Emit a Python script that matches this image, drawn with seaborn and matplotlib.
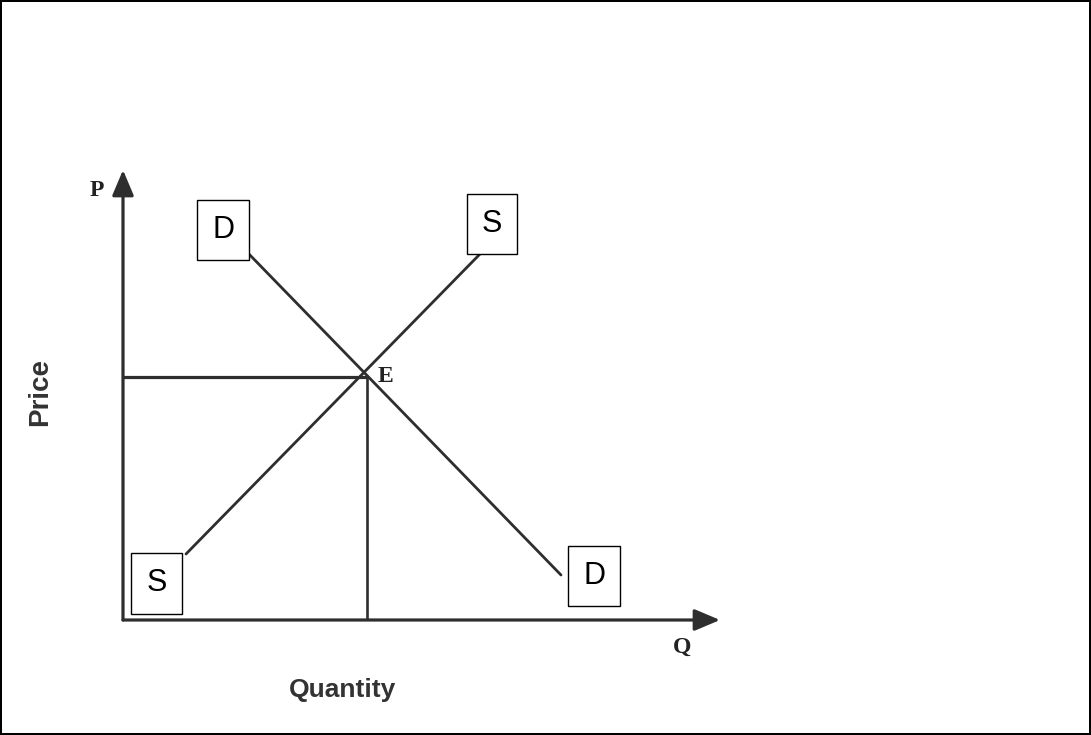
import matplotlib
matplotlib.use("Agg")
import matplotlib.pyplot as plt
import seaborn as sns
import pandas as pd

# ---- data (economic units: quantity on x, price on y) ----
demand_q = [2.05, 7.3]
demand_p = [6.15, 0.75]
supply_q = [1.05, 5.95]
supply_p = [1.1, 6.1]
eq_q = 4.07
eq_p = 4.05
curve_labels = ["D", "S", "S", "D"]
label_q = [1.67, 6.15, 0.56, 7.85]
label_p = [6.5, 6.6, 0.61, 0.73]
x_max = 9.95
y_max = 7.5

sns.set_theme(style="white")
plt.rcParams['font.family'] = ['Liberation Sans', 'DejaVu Sans']

fig = plt.figure(figsize=(10.91, 7.35), dpi=100)
fig.patch.set_facecolor("white")
fig.patch.set_edgecolor("black")
fig.patch.set_linewidth(1.5)

ax = fig.add_axes([123/1091, (735-620)/735, 600/1091, 450/735])
ax.set_xlim(0, 10)
ax.set_ylim(0, 7.5)
ax.axis("off")

line_col = "#2e2e2e"
df_d = pd.DataFrame({"q": demand_q, "p": demand_p})
df_s = pd.DataFrame({"q": supply_q, "p": supply_p})
sns.lineplot(data=df_d, x="q", y="p", ax=ax, color=line_col, lw=2.0, sort=False, legend=False)
sns.lineplot(data=df_s, x="q", y="p", ax=ax, color=line_col, lw=2.0, sort=False, legend=False)

# equilibrium guide lines
ax.plot([0, eq_q], [eq_p, eq_p], color=line_col, lw=2.3, solid_capstyle="butt")
ax.plot([eq_q, eq_q], [eq_p, 0], color=line_col, lw=1.9, solid_capstyle="butt")

# axes with arrows
arrow_kw = dict(arrowstyle="-|>,head_length=1.3,head_width=0.55", color=line_col, lw=2.3,
                shrinkA=0, shrinkB=0)
ax.annotate("", xy=(x_max, 0), xytext=(0, 0), arrowprops=arrow_kw, annotation_clip=False)
ax.annotate("", xy=(0, y_max), xytext=(0, 0), arrowprops=arrow_kw, annotation_clip=False)

# curve labels in boxes
for lab, q, p in zip(curve_labels, label_q, label_p):
    ax.text(q, p, lab, ha="center", va="center", fontsize=22, color="black",
            bbox=dict(boxstyle="square,pad=0.5", fc="white", ec="black", lw=1.0),
            clip_on=False, zorder=5)

serif = ['Liberation Serif', 'DejaVu Serif']
ax.text(-0.43, 7.16, "P", family=serif, fontweight="bold", fontsize=17, color="#222",
        ha="center", va="center", clip_on=False)
ax.text(9.32, -0.45, "Q", family=serif, fontweight="bold", fontsize=17, color="#222",
        ha="center", va="center", clip_on=False)
ax.text(eq_q + 0.3, eq_p + 0.0, "E", family=serif, fontweight="bold", fontsize=17, color="#222",
        ha="center", va="center", clip_on=False)

ax.text(3.65, -1.17, "Quantity", fontweight="bold", fontsize=19, color="#333",
        ha="center", va="center", clip_on=False)
ax.text(-1.38, 3.8, "Price", fontweight="bold", fontsize=20, color="#333",
        ha="center", va="center", rotation=90, clip_on=False)

fig.savefig("out.png", dpi=100, edgecolor=fig.get_edgecolor())
